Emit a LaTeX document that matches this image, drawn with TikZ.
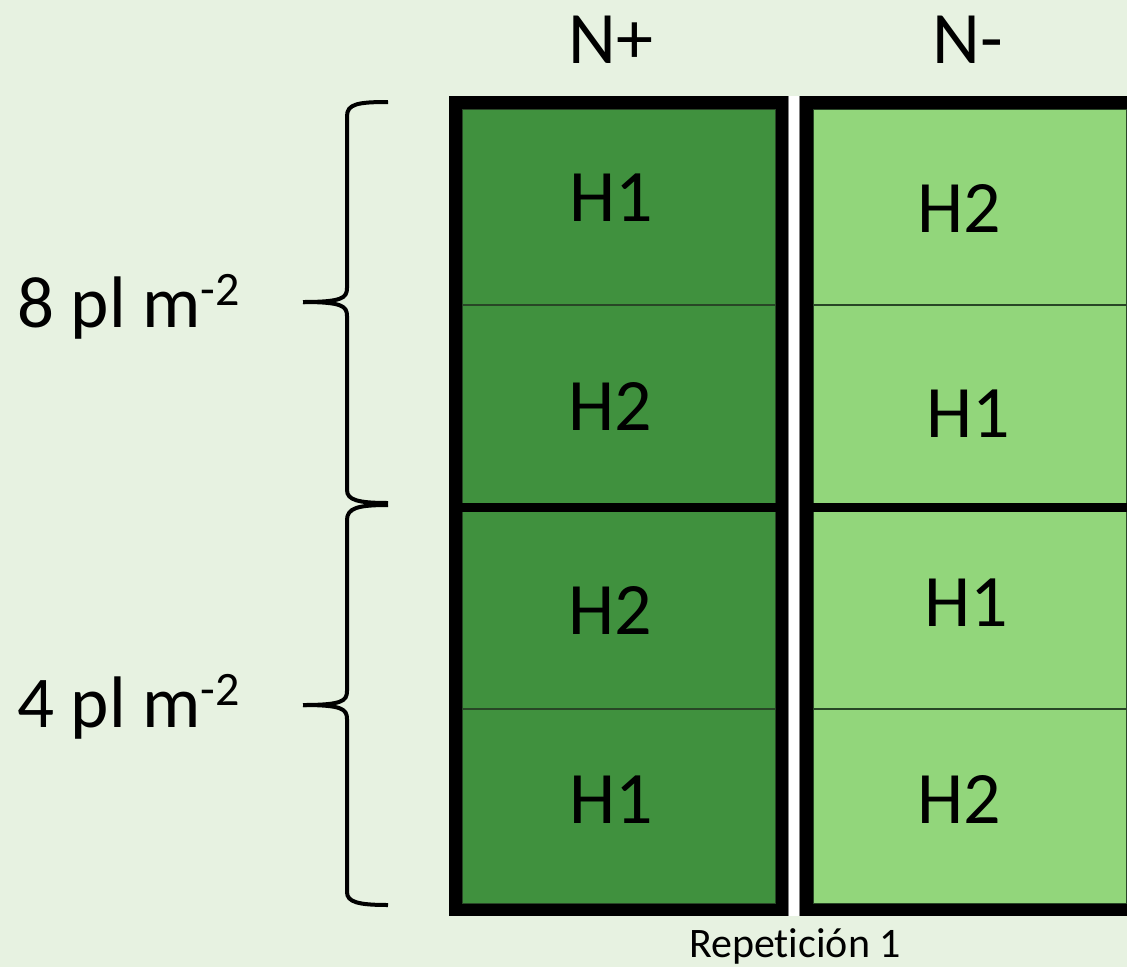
\documentclass[tikz,border=0pt]{standalone}
\usepackage{fontspec}
\setmainfont{Carlito}[Ligatures=NoCommon]
\definecolor{bgc}{RGB}{231,242,225}
\definecolor{darkg}{RGB}{64,145,62}
\definecolor{lightg}{RGB}{146,214,123}
\definecolor{edgeg}{RGB}{40,70,38}
\begin{document}
\begin{tikzpicture}[x=1pt,y=-1pt,
  lbl/.style={font=\fontsize{74}{80}\selectfont, inner sep=0pt, anchor=base},
  side/.style={font=\fontsize{73}{80}\selectfont, inner sep=0pt, anchor=base west},
  bracestyle/.style={line width=4pt, line join=round},
  thinsep/.style={line width=2pt, draw=edgeg},
  thicksep/.style={line width=9pt, draw=black}]
\useasboundingbox (0,0) rectangle (1127,967);
\fill[bgc] (0,0) rectangle (1127,967);
% white gap between blocks
\fill[white] (788,96) rectangle (800,916);
\draw[gray, line width=0.8pt] (788.5,96) -- (788.5,916) (799.5,96) -- (799.5,916);
% left block
\fill[black] (449,96) rectangle (788,916);
\fill[darkg] (462,109) rectangle (775,903);
\draw[edgeg, line width=0.8pt] (462,109) rectangle (775,903);
% right block
\fill[black] (800,96) rectangle (1140,916);
\fill[lightg] (813,109) rectangle (1126,903);
\draw[edgeg, line width=0.8pt] (813,109) rectangle (1126.5,903);
% separators
\draw[thinsep] (462,305) -- (775,305) (813,305) -- (1126,305);
\draw[thinsep] (462,709) -- (775,709) (813,709) -- (1126,709);
\draw[thicksep] (462,507) -- (776,507) (812,507) -- (1127,507);
% braces
\draw[bracestyle] (388,102) .. controls (358,102) and (347,104) .. (347,116) -- (347,288)
  .. controls (347,298) and (342,302) .. (303,302);
\draw[bracestyle] (303,302) .. controls (342,302) and (347,306) .. (347,316) -- (347,490)
  .. controls (347,500) and (358,503) .. (388,503);
\draw[bracestyle] (388,505) .. controls (358,505) and (347,508) .. (347,520) -- (347,691)
  .. controls (347,701) and (342,705) .. (303,705);
\draw[bracestyle] (303,705) .. controls (342,705) and (347,709) .. (347,719) -- (347,892)
  .. controls (347,902) and (358,905) .. (388,905);
% labels
\node[lbl] (np) at (611,63) {N+};
\node[lbl] (nm) at (968,63) {N-};
\node[lbl] (a1) at (611,221) {H1};
\node[lbl] (a2) at (610,430) {H2};
\node[lbl] (a3) at (610,634) {H2};
\node[lbl] (a4) at (611,823) {H1};
\node[lbl] (b1) at (959,232) {H2};
\node[lbl] (b2) at (968,437) {H1};
\node[lbl] (b3) at (966,626) {H1};
\node[lbl] (b4) at (959,823) {H2};
\node[side] (d8) at (17,327) {8 pl m\raisebox{22pt}{\fontsize{48}{50}\selectfont -2}};
\node[side] (d4) at (17,727) {4 pl m\raisebox{22pt}{\fontsize{48}{50}\selectfont -2}};
\node[font=\fontsize{42}{46}\selectfont, inner sep=0pt, anchor=base] (rep) at (795,957) {Repetición 1};
\end{tikzpicture}
\end{document}
